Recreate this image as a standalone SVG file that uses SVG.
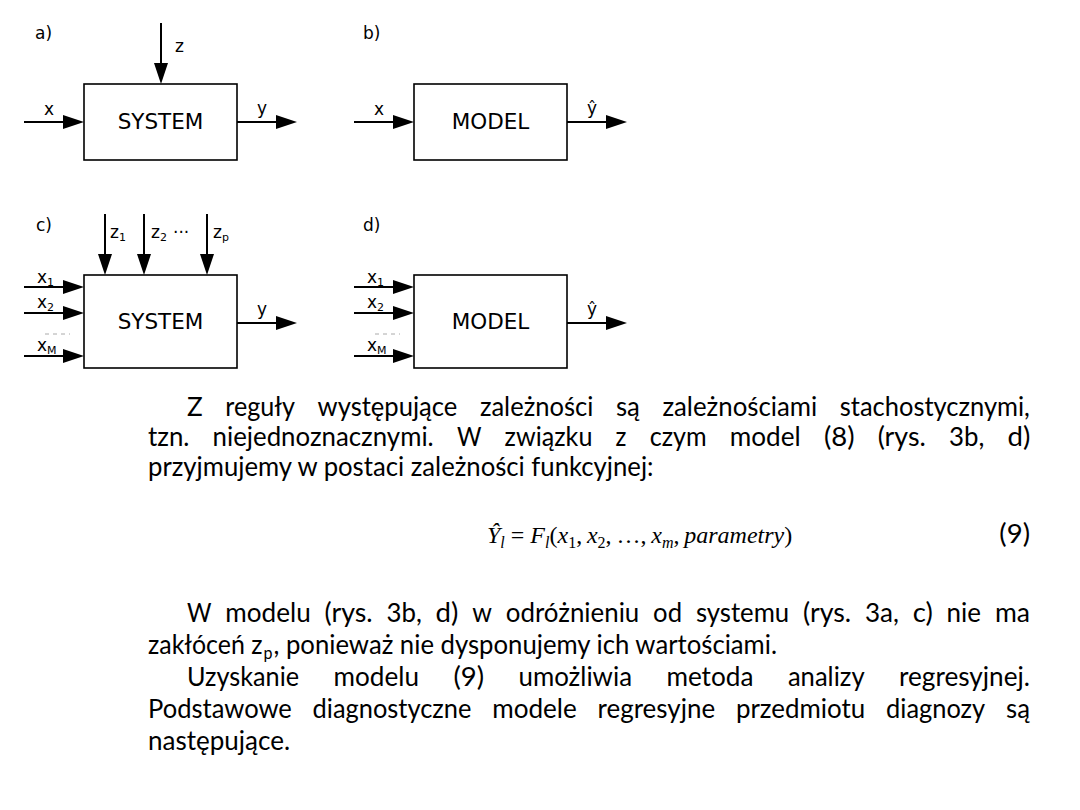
<svg xmlns="http://www.w3.org/2000/svg" width="1080" height="810" viewBox="0 0 1080 810">
<style>
.box{fill:#fff;stroke:#000;stroke-width:1.6}
.bl{font-family:"DejaVu Sans",sans-serif;font-size:21.5px;fill:#000;text-anchor:middle}
.lb{font-family:"DejaVu Sans",sans-serif;font-size:17px;fill:#000}
.sb{font-size:11px}
.cn{stroke:#000;stroke-width:2;fill:none;marker-end:url(#ah)}
.dash{stroke:#aaa;stroke-width:1;stroke-dasharray:4 4;fill:none}
.p{font-family:Lato,"Liberation Sans",sans-serif;font-size:27.5px;fill:#000}
.m{font-family:"Liberation Serif",serif;font-style:italic;font-size:24px;fill:#000}
.up{font-style:normal}
.ms{font-size:16px}
</style>
<defs>
<marker id="ah" markerUnits="userSpaceOnUse" markerWidth="21" markerHeight="14" refX="17" refY="7" orient="auto"><path d="M0,0 L21,7 L0,14 Z" fill="#000"/></marker>
</defs>

<g id="panel-labels" class="lb">
<text x="35" y="39">a)</text>
<text x="363" y="39">b)</text>
<text x="36" y="231">c)</text>
<text x="363" y="231">d)</text>
</g>

<g id="node-a-system">
<rect class="box" x="84" y="84" width="153" height="76"/>
<text class="bl" x="160.5" y="129">SYSTEM</text>
</g>
<g id="node-b-model">
<rect class="box" x="414" y="84" width="153" height="76"/>
<text class="bl" x="490.5" y="129">MODEL</text>
</g>
<g id="node-c-system">
<rect class="box" x="84" y="275" width="153" height="93"/>
<text class="bl" x="160.5" y="329">SYSTEM</text>
</g>
<g id="node-d-model">
<rect class="box" x="414" y="275" width="153" height="93"/>
<text class="bl" x="490.5" y="329">MODEL</text>
</g>

<g id="connectors">
<path class="cn" d="M24,122 H80"/>
<path class="cn" d="M161,23 V80"/>
<path class="cn" d="M237,122 H293"/>
<path class="cn" d="M354,122 H410"/>
<path class="cn" d="M567,122 H623"/>
<path class="cn" d="M24,287 H80"/>
<path class="cn" d="M24,313 H80"/>
<path class="cn" d="M24,356 H80"/>
<path class="cn" d="M105,214 V271"/>
<path class="cn" d="M144,214 V271"/>
<path class="cn" d="M207,214 V271"/>
<path class="cn" d="M237,323 H293"/>
<path class="cn" d="M354,287 H410"/>
<path class="cn" d="M354,313 H410"/>
<path class="cn" d="M354,356 H410"/>
<path class="cn" d="M567,323 H623"/>
<path class="dash" d="M45,334 H70"/>
<path class="dash" d="M375,334 H400"/>
</g>

<g id="connector-labels" class="lb">
<text x="44" y="115">x</text>
<text x="175" y="52">z</text>
<text x="257" y="114">y</text>
<text x="374" y="115">x</text>
<text x="587" y="114">ŷ</text>
<text x="110" y="238">z<tspan class="sb" dy="3">1</tspan></text>
<text x="151" y="238">z<tspan class="sb" dy="3">2</tspan></text>
<text x="173" y="238">···</text>
<text x="213" y="238">z<tspan class="sb" dy="3">p</tspan></text>
<text x="37" y="283">x<tspan class="sb" dy="3">1</tspan></text>
<text x="37" y="308">x<tspan class="sb" dy="3">2</tspan></text>
<text x="37" y="351">x<tspan class="sb" dy="3">M</tspan></text>
<text x="257" y="315">y</text>
<text x="367" y="283">x<tspan class="sb" dy="3">1</tspan></text>
<text x="367" y="308">x<tspan class="sb" dy="3">2</tspan></text>
<text x="367" y="351">x<tspan class="sb" dy="3">M</tspan></text>
<text x="587" y="315">ŷ</text>
</g>

<g id="body-text" class="p">
<text y="416"><tspan x="187" textLength="15.7" lengthAdjust="spacingAndGlyphs">Z</tspan><tspan x="225.3" textLength="69.7" lengthAdjust="spacingAndGlyphs">reguły</tspan><tspan x="317.6" textLength="139.7" lengthAdjust="spacingAndGlyphs">występujące</tspan><tspan x="479.9" textLength="113.4" lengthAdjust="spacingAndGlyphs">zależności</tspan><tspan x="615.9" textLength="23.9" lengthAdjust="spacingAndGlyphs">są</tspan><tspan x="662.4" textLength="154.8" lengthAdjust="spacingAndGlyphs">zależnościami</tspan><tspan x="839.8" textLength="190.1" lengthAdjust="spacingAndGlyphs">stachostycznymi,</tspan></text>
<text y="446"><tspan x="148" textLength="41.4" lengthAdjust="spacingAndGlyphs">tzn.</tspan><tspan x="212.6" textLength="221.1" lengthAdjust="spacingAndGlyphs">niejednoznacznymi.</tspan><tspan x="456.9" textLength="24.5" lengthAdjust="spacingAndGlyphs">W</tspan><tspan x="504.6" textLength="87.8" lengthAdjust="spacingAndGlyphs">związku</tspan><tspan x="615.6" textLength="10.9" lengthAdjust="spacingAndGlyphs">z</tspan><tspan x="649.7" textLength="56.9" lengthAdjust="spacingAndGlyphs">czym</tspan><tspan x="729.8" textLength="70.9" lengthAdjust="spacingAndGlyphs">model</tspan><tspan x="823.9" textLength="30.6" lengthAdjust="spacingAndGlyphs">(8)</tspan><tspan x="877.7" textLength="48.1" lengthAdjust="spacingAndGlyphs">(rys.</tspan><tspan x="949.0" textLength="35.3" lengthAdjust="spacingAndGlyphs">3b,</tspan><tspan x="1007.5" textLength="22.8" lengthAdjust="spacingAndGlyphs">d)</tspan></text>
<text x="148" y="476" textLength="505.5" lengthAdjust="spacingAndGlyphs">przyjmujemy w postaci zależności funkcyjnej:</text>
<text x="1030" y="543" text-anchor="end">(9)</text>
<text y="622"><tspan x="187" textLength="24.5" lengthAdjust="spacingAndGlyphs">W</tspan><tspan x="225.3" textLength="85.4" lengthAdjust="spacingAndGlyphs">modelu</tspan><tspan x="324.6" textLength="48.1" lengthAdjust="spacingAndGlyphs">(rys.</tspan><tspan x="386.5" textLength="35.3" lengthAdjust="spacingAndGlyphs">3b,</tspan><tspan x="435.6" textLength="22.8" lengthAdjust="spacingAndGlyphs">d)</tspan><tspan x="472.3" textLength="19.7" lengthAdjust="spacingAndGlyphs">w</tspan><tspan x="505.8" textLength="133.5" lengthAdjust="spacingAndGlyphs">odróżnieniu</tspan><tspan x="653.1" textLength="28.9" lengthAdjust="spacingAndGlyphs">od</tspan><tspan x="695.9" textLength="93.3" lengthAdjust="spacingAndGlyphs">systemu</tspan><tspan x="803.0" textLength="48.1" lengthAdjust="spacingAndGlyphs">(rys.</tspan><tspan x="865.0" textLength="34.0" lengthAdjust="spacingAndGlyphs">3a,</tspan><tspan x="912.8" textLength="20.0" lengthAdjust="spacingAndGlyphs">c)</tspan><tspan x="946.6" textLength="34.4" lengthAdjust="spacingAndGlyphs">nie</tspan><tspan x="994.9" textLength="35.1" lengthAdjust="spacingAndGlyphs">ma</tspan></text>
<text y="654"><tspan x="148" textLength="114.5" lengthAdjust="spacingAndGlyphs">zakłóceń z</tspan><tspan x="263.5" dy="5" font-size="18" textLength="9" lengthAdjust="spacingAndGlyphs">p</tspan><tspan x="273.5" dy="-5" textLength="503.5" lengthAdjust="spacingAndGlyphs">, ponieważ nie dysponujemy ich wartościami.</tspan></text>
<text y="686"><tspan x="187" textLength="112.1" lengthAdjust="spacingAndGlyphs">Uzyskanie</tspan><tspan x="333.6" textLength="85.4" lengthAdjust="spacingAndGlyphs">modelu</tspan><tspan x="453.4" textLength="30.6" lengthAdjust="spacingAndGlyphs">(9)</tspan><tspan x="518.5" textLength="113.5" lengthAdjust="spacingAndGlyphs">umożliwia</tspan><tspan x="666.4" textLength="87.0" lengthAdjust="spacingAndGlyphs">metoda</tspan><tspan x="787.9" textLength="76.7" lengthAdjust="spacingAndGlyphs">analizy</tspan><tspan x="899.0" textLength="131.0" lengthAdjust="spacingAndGlyphs">regresyjnej.</tspan></text>
<text y="718"><tspan x="148" textLength="143.8" lengthAdjust="spacingAndGlyphs">Podstawowe</tspan><tspan x="312.6" textLength="158.8" lengthAdjust="spacingAndGlyphs">diagnostyczne</tspan><tspan x="492.2" textLength="84.6" lengthAdjust="spacingAndGlyphs">modele</tspan><tspan x="597.6" textLength="117.5" lengthAdjust="spacingAndGlyphs">regresyjne</tspan><tspan x="735.9" textLength="129.4" lengthAdjust="spacingAndGlyphs">przedmiotu</tspan><tspan x="886.1" textLength="99.1" lengthAdjust="spacingAndGlyphs">diagnozy</tspan><tspan x="1006.0" textLength="23.9" lengthAdjust="spacingAndGlyphs">są</tspan></text>
<text x="148" y="750" textLength="142.1" lengthAdjust="spacingAndGlyphs">następujące.</text>
</g>

<g id="formula" class="m">
<text x="487" y="543">Ŷ<tspan class="ms" dy="5">l</tspan><tspan class="up" dy="-5"> = </tspan>F<tspan class="ms" dy="5">l</tspan><tspan class="up" dy="-5">(</tspan>x<tspan class="ms up" dy="5">1</tspan><tspan class="up" dy="-5">,&#8201;</tspan>x<tspan class="ms up" dy="5">2</tspan><tspan class="up" dy="-5">,&#8201;…,&#8201;</tspan>x<tspan class="ms" dy="5">m</tspan><tspan class="up" dy="-5">,&#8201;</tspan>parametry<tspan class="up">)</tspan></text>
</g>
</svg>
